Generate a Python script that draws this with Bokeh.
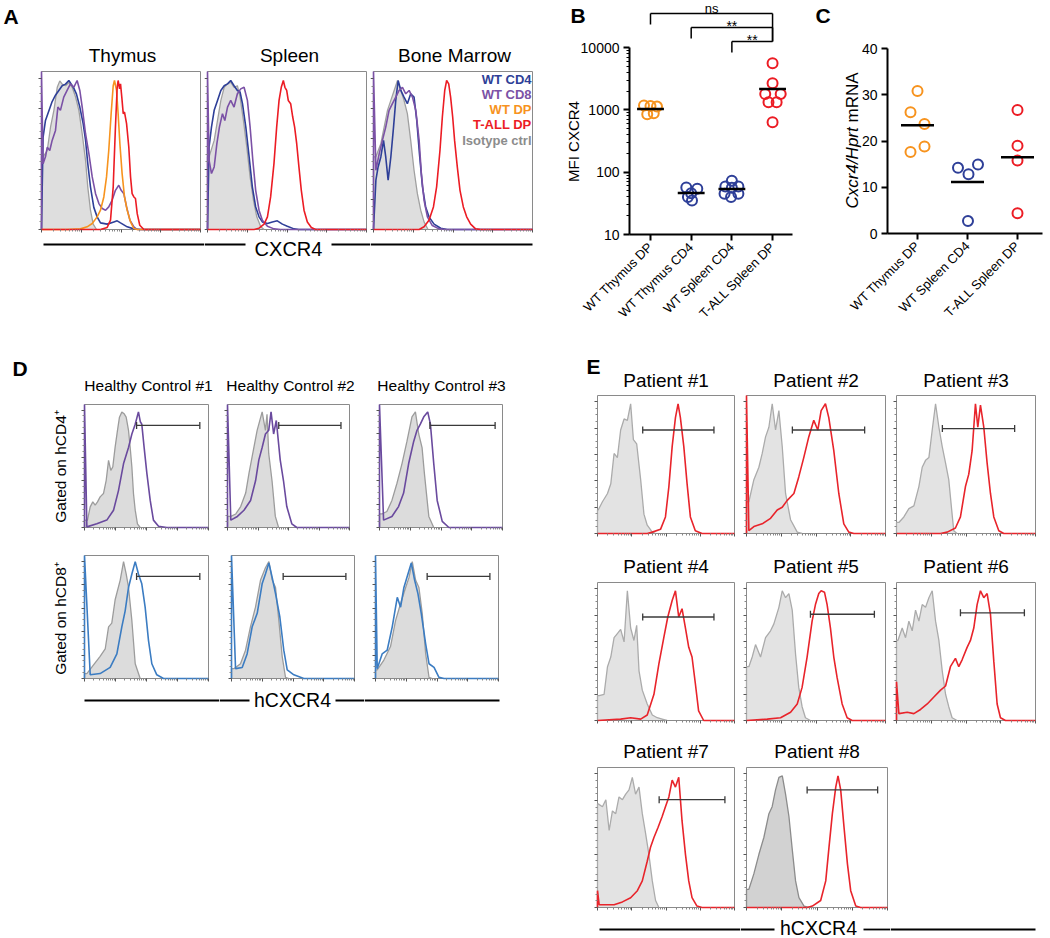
import math
import numpy as np
from bokeh.plotting import figure
from bokeh.layouts import row, column
from bokeh.models import Range1d, FixedTicker, CustomJSTickFormatter, BasicTickFormatter
from bokeh.core.properties import value
from bokeh.embed import file_html
from bokeh.resources import INLINE

FONT = "Liberation Sans"

# ======================= DATA =======================
# Histograms: x = normalised log fluorescence (0-1), y = normalised count (0-1)
# ---- Panel A : Thymus ----
A_THY_ISO = [(0.01,0.46),(0.036,0.5),(0.057,0.65),(0.078,0.754),(0.099,0.9),(0.115,0.94),(0.13,0.92),(0.151,0.91),(0.172,0.93),(0.193,0.9),(0.214,0.84),(0.235,0.754),(0.256,0.606),(0.277,0.438),(0.291,0.27),(0.308,0.122),(0.325,0.034),(0.346,0.0)]
A_THY_CD4 = [(0.01,0.585),(0.025,0.69),(0.046,0.75),(0.067,0.81),(0.088,0.85),(0.109,0.88),(0.13,0.91),(0.151,0.92),(0.172,0.943),(0.187,0.92),(0.203,0.895),(0.22,0.857),(0.241,0.775),(0.262,0.67),(0.277,0.565),(0.291,0.417),(0.308,0.27),(0.329,0.14),(0.35,0.08),(0.371,0.042),(0.413,0.034),(0.455,0.048),(0.476,0.055),(0.497,0.042),(0.539,0.017),(0.58,0.004),(0.623,0.0)]
A_THY_CD8 = [(0.01,0.417),(0.025,0.46),(0.036,0.52),(0.052,0.5),(0.067,0.564),(0.088,0.627),(0.103,0.775),(0.119,0.754),(0.14,0.838),(0.161,0.88),(0.182,0.922),(0.203,0.9),(0.224,0.943),(0.241,0.88),(0.256,0.775),(0.277,0.606),(0.298,0.48),(0.319,0.333),(0.34,0.227),(0.361,0.164),(0.382,0.133),(0.403,0.122),(0.423,0.143),(0.444,0.185),(0.465,0.248),(0.486,0.28),(0.501,0.248),(0.518,0.227),(0.535,0.143),(0.556,0.059),(0.581,0.017),(0.602,0.0)]
A_THY_DP = [(0.161,0.0),(0.245,0.004),(0.287,0.017),(0.319,0.038),(0.35,0.08),(0.371,0.122),(0.392,0.206),(0.409,0.333),(0.423,0.5),(0.438,0.733),(0.451,0.91),(0.459,0.943),(0.472,0.88),(0.482,0.733),(0.493,0.543),(0.507,0.354),(0.522,0.206),(0.539,0.122),(0.56,0.048),(0.581,0.006),(0.602,0.0)]
A_THY_TALL = [(0.371,0.0),(0.413,0.013),(0.434,0.059),(0.451,0.27),(0.465,0.648),(0.476,0.9),(0.482,0.943),(0.491,0.89),(0.497,0.922),(0.505,0.838),(0.514,0.733),(0.522,0.743),(0.535,0.67),(0.549,0.522),(0.56,0.333),(0.57,0.227),(0.581,0.206),(0.591,0.196),(0.602,0.1),(0.618,0.027),(0.644,0.0)]
# ---- Panel A : Spleen ----
A_SPL_ISO = [(0.01,0.46),(0.042,0.564),(0.063,0.69),(0.084,0.817),(0.105,0.9),(0.126,0.922),(0.146,0.933),(0.167,0.9),(0.188,0.91),(0.205,0.838),(0.226,0.69),(0.247,0.522),(0.268,0.333),(0.289,0.185),(0.31,0.08),(0.335,0.017),(0.356,0.0)]
A_SPL_CD4 = [(0.01,0.522),(0.025,0.648),(0.042,0.754),(0.063,0.817),(0.084,0.88),(0.105,0.91),(0.126,0.922),(0.146,0.943),(0.167,0.91),(0.188,0.88),(0.205,0.87),(0.22,0.796),(0.241,0.648),(0.262,0.459),(0.282,0.27),(0.303,0.143),(0.324,0.08),(0.345,0.048),(0.377,0.038),(0.408,0.048),(0.439,0.055),(0.471,0.034),(0.502,0.021),(0.544,0.004),(0.575,0.0)]
A_SPL_CD8 = [(0.01,0.438),(0.025,0.354),(0.042,0.396),(0.059,0.543),(0.075,0.648),(0.094,0.733),(0.109,0.69),(0.126,0.775),(0.146,0.817),(0.167,0.775),(0.188,0.859),(0.209,0.89),(0.23,0.9),(0.251,0.817),(0.268,0.648),(0.285,0.438),(0.303,0.248),(0.324,0.122),(0.345,0.059),(0.377,0.021),(0.418,0.004),(0.46,0.0)]
A_SPL_TALL = [(0.293,0.0),(0.324,0.008),(0.356,0.034),(0.377,0.08),(0.397,0.206),(0.418,0.417),(0.435,0.648),(0.45,0.817),(0.464,0.9),(0.477,0.943),(0.487,0.9),(0.498,0.88),(0.508,0.817),(0.523,0.796),(0.536,0.712),(0.548,0.648),(0.561,0.543),(0.575,0.396),(0.59,0.248),(0.607,0.122),(0.628,0.048),(0.653,0.013),(0.68,0.0)]
# ---- Panel A : Bone marrow ----
A_BM_ISO = [(0.015,0.46),(0.046,0.543),(0.067,0.648),(0.088,0.754),(0.109,0.817),(0.13,0.88),(0.151,0.943),(0.172,0.88),(0.192,0.817),(0.213,0.733),(0.234,0.564),(0.255,0.375),(0.276,0.227),(0.297,0.122),(0.318,0.048),(0.343,0.0)]
A_BM_CD4 = [(0.015,0.312),(0.029,0.396),(0.046,0.459),(0.063,0.564),(0.077,0.459),(0.092,0.312),(0.109,0.459),(0.126,0.648),(0.14,0.817),(0.155,0.943),(0.172,0.88),(0.192,0.838),(0.213,0.796),(0.234,0.859),(0.255,0.838),(0.272,0.69),(0.289,0.48),(0.308,0.27),(0.328,0.143),(0.349,0.08),(0.381,0.034),(0.423,0.008),(0.464,0.0)]
A_BM_CD8 = [(0.015,0.375),(0.036,0.48),(0.056,0.564),(0.077,0.648),(0.098,0.754),(0.119,0.796),(0.14,0.838),(0.161,0.88),(0.182,0.9),(0.203,0.859),(0.224,0.88),(0.245,0.838),(0.266,0.754),(0.287,0.564),(0.301,0.354),(0.318,0.185),(0.339,0.08),(0.37,0.025),(0.412,0.004),(0.454,0.0)]
A_BM_TALL = [(0.287,0.0),(0.318,0.017),(0.349,0.059),(0.377,0.143),(0.397,0.27),(0.418,0.5),(0.433,0.712),(0.448,0.88),(0.46,0.943),(0.473,0.922),(0.485,0.838),(0.498,0.712),(0.51,0.564),(0.527,0.396),(0.544,0.248),(0.565,0.143),(0.586,0.08),(0.611,0.034),(0.642,0.004),(0.674,0.0)]
A_TITLES = ["Thymus", "Spleen", "Bone Marrow"]
A_LEGEND = ["WT CD4", "WT CD8", "WT DP", "T-ALL DP", "Isotype ctrl"]

# ---- Panel B : MFI CXCR4 ----
B_GROUPS = ["WT Thymus DP", "WT Thymus CD4", "WT Spleen CD4", "T-ALL Spleen DP"]
B_THY_DP = [1170, 1150, 1130, 850, 880]
B_THY_CD4 = [57, 54, 46, 40, 35]
B_SPL_CD4 = [73, 59, 59, 56, 45, 45, 40]
B_TALL_DP = [5600, 2660, 1800, 1800, 1320, 1320, 630]
B_JITTER = [[-0.16, 0.0, 0.16, -0.08, 0.08],
            [-0.12, 0.15, 0.0, -0.08, 0.02],
            [0.0, -0.16, 0.16, 0.0, -0.18, 0.16, -0.02],
            [0.0, 0.0, -0.18, 0.2, -0.1, 0.1, 0.0]]
B_TICKS = [10, 100, 1000, 10000]
B_SIG = [("ns", 1, 4), ("**", 2, 4), ("**", 3, 4)]

# ---- Panel C : Cxcr4/Hprt mRNA ----
C_GROUPS = ["WT Thymus DP", "WT Spleen CD4", "T-ALL Spleen DP"]
C_THY_DP = [30.8, 26.2, 23.7, 18.8, 17.6]
C_SPL_CD4 = [14.2, 12.8, 14.9, 2.7]
C_TALL_DP = [26.7, 19.0, 15.8, 4.4]
C_JITTER = [[0.0, -0.14, 0.14, 0.14, -0.14],
            [-0.19, 0.02, 0.21, 0.01],
            [0.0, 0.0, 0.0, 0.0]]
C_TICKS = [0, 10, 20, 30, 40]

# ---- Panel D : healthy controls ----
D_TITLES = ["Healthy Control #1", "Healthy Control #2", "Healthy Control #3"]
D_ROWS = ["Gated on hCD4\u207a", "Gated on hCD8\u207a"]
D_CD4_ISO_1 = [(0.024,0.059),(0.046,0.168),(0.067,0.208),(0.086,0.181),(0.105,0.208),(0.126,0.249),(0.153,0.276),(0.175,0.384),(0.194,0.546),(0.212,0.465),(0.228,0.492),(0.247,0.654),(0.266,0.789),(0.282,0.897),(0.301,0.938),(0.32,0.924),(0.336,0.897),(0.355,0.789),(0.368,0.654),(0.382,0.492),(0.395,0.276),(0.409,0.141),(0.427,0.03),(0.449,0.0)]
D_CD4_1 = [(0.019,0.005),(0.099,0.03),(0.18,0.06),(0.234,0.14),(0.274,0.3),(0.315,0.52),(0.355,0.65),(0.382,0.76),(0.409,0.84),(0.435,0.94),(0.45,0.86),(0.462,0.84),(0.481,0.65),(0.503,0.44),(0.53,0.22),(0.556,0.06),(0.597,0.01),(0.664,0.0)]
D_CD4_ISO_2 = [(0.027,0.09),(0.068,0.11),(0.108,0.17),(0.149,0.28),(0.176,0.44),(0.216,0.65),(0.243,0.79),(0.284,0.94),(0.311,0.79),(0.324,0.92),(0.338,0.6),(0.365,0.38),(0.392,0.09),(0.419,0.0)]
D_CD4_2 = [(0.027,0.06),(0.081,0.09),(0.135,0.14),(0.189,0.22),(0.23,0.38),(0.257,0.55),(0.284,0.65),(0.311,0.76),(0.338,0.79),(0.357,0.94),(0.378,0.76),(0.4,0.87),(0.432,0.55),(0.459,0.38),(0.486,0.17),(0.527,0.03),(0.568,0.0)]
D_CD4_ISO_3 = [(0.019,0.11),(0.06,0.13),(0.101,0.22),(0.142,0.36),(0.183,0.52),(0.223,0.7),(0.264,0.9),(0.292,0.94),(0.319,0.76),(0.346,0.65),(0.365,0.44),(0.401,0.09),(0.441,0.0)]
D_CD4_3 = [(0.033,0.06),(0.101,0.09),(0.155,0.17),(0.196,0.28),(0.237,0.52),(0.278,0.7),(0.305,0.79),(0.332,0.84),(0.36,0.9),(0.392,0.94),(0.414,0.84),(0.441,0.52),(0.469,0.22),(0.51,0.05),(0.564,0.0)]
D_CD8_ISO_1 = [(0.019,0.04),(0.073,0.11),(0.126,0.18),(0.167,0.24),(0.194,0.42),(0.22,0.45),(0.247,0.64),(0.288,0.8),(0.315,0.95),(0.336,0.85),(0.355,0.74),(0.382,0.47),(0.409,0.12),(0.449,0.0)]
D_CD8_1 = [(0.046,0.03),(0.126,0.04),(0.207,0.09),(0.261,0.2),(0.301,0.42),(0.328,0.55),(0.355,0.74),(0.382,0.85),(0.409,0.95),(0.435,0.85),(0.462,0.77),(0.489,0.58),(0.516,0.31),(0.543,0.12),(0.583,0.03),(0.637,0.0)]
D_CD8_ISO_2 = [(0.019,0.08),(0.073,0.12),(0.114,0.23),(0.154,0.42),(0.195,0.58),(0.236,0.8),(0.276,0.9),(0.304,0.95),(0.331,0.8),(0.358,0.74),(0.385,0.47),(0.412,0.18),(0.439,0.01),(0.466,0.0)]
D_CD8_2 = [(0.033,0.08),(0.087,0.09),(0.127,0.2),(0.168,0.42),(0.209,0.53),(0.249,0.77),(0.276,0.85),(0.304,0.94),(0.331,0.82),(0.358,0.69),(0.393,0.5),(0.425,0.23),(0.453,0.07),(0.507,0.03),(0.588,0.0)]
D_CD8_ISO_3 = [(0.014,0.07),(0.068,0.15),(0.122,0.26),(0.163,0.47),(0.204,0.61),(0.245,0.74),(0.272,0.82),(0.299,0.95),(0.326,0.8),(0.353,0.74),(0.38,0.53),(0.408,0.2),(0.435,0.01),(0.462,0.0)]
D_CD8_3 = [(0.014,0.08),(0.054,0.2),(0.095,0.23),(0.136,0.42),(0.177,0.66),(0.204,0.58),(0.231,0.74),(0.264,0.85),(0.291,0.94),(0.318,0.8),(0.345,0.69),(0.372,0.53),(0.408,0.28),(0.435,0.12),(0.476,0.09),(0.516,0.01),(0.557,0.0)]
D_GATES = [[(0.42, 0.93, 0.83), (0.42, 0.93, 0.83), (0.41, 0.94, 0.83)],
           [(0.42, 0.93, 0.83), (0.42, 0.93, 0.83), (0.42, 0.93, 0.83)]]

# ---- Panel E : patients ----
E_TITLES = ["Patient #1", "Patient #2", "Patient #3", "Patient #4",
            "Patient #5", "Patient #6", "Patient #7", "Patient #8"]
E_ISO_1 = [(0.005,0.17),(0.036,0.23),(0.073,0.29),(0.097,0.36),(0.121,0.58),(0.145,0.55),(0.169,0.75),(0.194,0.83),(0.218,0.82),(0.242,0.94),(0.262,0.68),(0.286,0.65),(0.315,0.39),(0.339,0.14),(0.363,0.06),(0.4,0.01),(0.424,0.0)]
E_TALL_1 = [(0.363,0.0),(0.4,0.01),(0.46,0.03),(0.496,0.12),(0.521,0.34),(0.545,0.63),(0.569,0.84),(0.588,0.94),(0.605,0.84),(0.63,0.63),(0.654,0.36),(0.678,0.12),(0.714,0.02),(0.763,0.0)]
E_ISO_2 = [(0.017,0.23),(0.053,0.39),(0.089,0.48),(0.113,0.58),(0.137,0.7),(0.161,0.77),(0.185,0.94),(0.209,0.75),(0.233,0.89),(0.257,0.63),(0.281,0.29),(0.317,0.1),(0.365,0.01),(0.4,0.0)]
E_TALL_2 = [(0.017,0.02),(0.053,0.05),(0.113,0.07),(0.173,0.11),(0.221,0.17),(0.257,0.19),(0.293,0.24),(0.341,0.29),(0.376,0.41),(0.412,0.55),(0.448,0.7),(0.484,0.82),(0.513,0.75),(0.537,0.89),(0.568,0.94),(0.592,0.84),(0.628,0.6),(0.664,0.29),(0.7,0.07),(0.736,0.01),(0.772,0.0)]
E_ISO_3 = [(0.017,0.08),(0.053,0.12),(0.089,0.18),(0.125,0.2),(0.161,0.34),(0.185,0.48),(0.209,0.53),(0.233,0.55),(0.257,0.75),(0.281,0.94),(0.305,0.77),(0.329,0.63),(0.353,0.51),(0.376,0.39),(0.4,0.14),(0.412,0.02),(0.436,0.0)]
E_TALL_3 = [(0.317,0.0),(0.365,0.01),(0.424,0.04),(0.46,0.12),(0.496,0.34),(0.52,0.43),(0.544,0.6),(0.568,0.94),(0.585,0.77),(0.604,0.93),(0.628,0.77),(0.652,0.51),(0.676,0.29),(0.7,0.12),(0.736,0.02),(0.772,0.0)]
E_ISO_4 = [(0.012,0.18),(0.048,0.19),(0.073,0.39),(0.097,0.46),(0.121,0.6),(0.145,0.63),(0.169,0.66),(0.194,0.57),(0.218,0.94),(0.242,0.67),(0.266,0.58),(0.286,0.69),(0.303,0.36),(0.327,0.22),(0.363,0.12),(0.4,0.04),(0.436,0.02),(0.472,0.01),(0.508,0.0)]
E_TALL_4 = [(0.169,0.01),(0.242,0.02),(0.315,0.01),(0.363,0.04),(0.412,0.19),(0.448,0.41),(0.484,0.6),(0.513,0.75),(0.545,0.87),(0.569,0.94),(0.593,0.75),(0.617,0.81),(0.642,0.67),(0.666,0.53),(0.69,0.46),(0.714,0.27),(0.738,0.07),(0.775,0.0)]
E_ISO_5 = [(0.017,0.39),(0.041,0.46),(0.065,0.55),(0.101,0.46),(0.137,0.6),(0.173,0.65),(0.197,0.7),(0.233,0.82),(0.257,0.94),(0.281,0.89),(0.305,0.92),(0.329,0.8),(0.353,0.48),(0.376,0.24),(0.4,0.1),(0.424,0.02),(0.46,0.0)]
E_TALL_5 = [(0.149,0.01),(0.245,0.02),(0.317,0.06),(0.365,0.12),(0.4,0.24),(0.436,0.46),(0.472,0.72),(0.496,0.84),(0.52,0.92),(0.537,0.94),(0.561,0.93),(0.58,0.84),(0.604,0.67),(0.628,0.46),(0.652,0.31),(0.688,0.12),(0.724,0.02),(0.76,0.0)]
E_ISO_6 = [(0.01,0.58),(0.041,0.67),(0.065,0.6),(0.089,0.72),(0.113,0.65),(0.137,0.8),(0.161,0.72),(0.185,0.84),(0.209,0.82),(0.233,0.89),(0.257,0.94),(0.281,0.72),(0.305,0.58),(0.329,0.36),(0.353,0.19),(0.376,0.1),(0.4,0.02),(0.436,0.0)]
E_TALL_6 = [(0.017,0.05),(0.077,0.06),(0.125,0.05),(0.173,0.08),(0.221,0.12),(0.269,0.17),(0.317,0.22),(0.353,0.25),(0.388,0.39),(0.424,0.45),(0.448,0.39),(0.472,0.44),(0.508,0.53),(0.532,0.58),(0.556,0.67),(0.58,0.84),(0.604,0.94),(0.628,0.89),(0.652,0.92),(0.676,0.77),(0.7,0.43),(0.724,0.12),(0.748,0.02),(0.784,0.0)]
E_ISO_7 = [(0.005,0.74),(0.036,0.72),(0.061,0.77),(0.085,0.55),(0.109,0.69),(0.133,0.67),(0.157,0.79),(0.182,0.77),(0.206,0.81),(0.23,0.84),(0.254,0.93),(0.278,0.81),(0.303,0.86),(0.327,0.67),(0.351,0.53),(0.375,0.38),(0.4,0.19),(0.424,0.05),(0.448,0.0)]
E_TALL_7 = [(0.012,0.02),(0.121,0.02),(0.182,0.04),(0.242,0.07),(0.291,0.12),(0.327,0.19),(0.363,0.33),(0.387,0.43),(0.412,0.5),(0.441,0.57),(0.472,0.65),(0.496,0.72),(0.521,0.79),(0.545,0.91),(0.569,0.86),(0.593,0.93),(0.617,0.62),(0.642,0.38),(0.666,0.19),(0.69,0.07),(0.726,0.01),(0.763,0.0)]
E_ISO_8 = [(0.017,0.13),(0.052,0.24),(0.088,0.38),(0.123,0.5),(0.159,0.67),(0.182,0.72),(0.206,0.84),(0.23,0.93),(0.254,0.94),(0.277,0.81),(0.301,0.65),(0.325,0.41),(0.348,0.19),(0.372,0.07),(0.408,0.01),(0.443,0.0)]
E_TALL_8 = [(0.431,0.0),(0.467,0.01),(0.526,0.05),(0.562,0.19),(0.585,0.43),(0.609,0.67),(0.633,0.86),(0.649,0.94),(0.668,0.84),(0.692,0.57),(0.716,0.31),(0.739,0.12),(0.775,0.01),(0.81,0.0)]
E_SPIKES = [0.0, 1.0, 0.0, 0.0, 0.0, 0.28, 0.12, 0.0]
E_GATES = [(0.33, 0.85, 0.75), (0.33, 0.85, 0.75), (0.33, 0.85, 0.76), (0.33, 0.85, 0.75),
           (0.46, 0.92, 0.77), (0.46, 0.92, 0.78), (0.45, 0.93, 0.77), (0.43, 0.93, 0.84)]

# ======================= STYLE =======================
A_BLUE, A_PURPLE, A_ORANGE, A_RED = "#2e3f98", "#7b51a6", "#f7931e", "#ec1c24"
D_PURPLE, D_BLUE = "#6a4a9e", "#3b7cc2"
E_RED = "#e8242b"
ISO_FILL, ISO_LINE = "#dedede", "#a0a0a0"
BOX = "#8a8a8a"
GATE = "#3a3a3a"
X_MAJ = [0.0, 0.25, 0.5, 0.75, 1.0]
X_MIN = [d * 0.25 + math.log10(k) * 0.25 for d in range(4) for k in range(2, 10)]
Y_MAJ = [i * 0.191 for i in range(6)]
Y_MIN = [i * 0.191 + k * 0.0478 for i in range(5) for k in (1, 2, 3)]


class Panel:
    """A figure whose frame fills its whole layout cell; (xr, yr) map onto the
    inner box (page pixels ox+L .. ox+w-R, oy+T .. oy+h-B)."""

    def __init__(self, ox, oy, w, h, L, R, T, B, xr=(0.0, 1.0), yr=(0.0, 1.0), ylog=False):
        self.bx0, self.bx1 = ox + L, ox + w - R
        self.by0, self.by1 = oy + T, oy + h - B
        self.xr, self.yr, self.ylog = xr, yr, ylog
        self.sx = (xr[1] - xr[0]) / (self.bx1 - self.bx0)
        ly = (math.log10(yr[0]), math.log10(yr[1])) if ylog else yr
        self.ly = ly
        self.sy = (ly[1] - ly[0]) / (self.by1 - self.by0)
        x0, x1 = xr[0] - L * self.sx, xr[1] + R * self.sx
        y0, y1 = ly[0] - B * self.sy, ly[1] + T * self.sy
        if ylog:
            y0, y1 = 10 ** y0, 10 ** y1
        kw = dict(width=w, height=h, x_range=Range1d(x0, x1), y_range=Range1d(y0, y1),
                  min_border_left=0, min_border_right=0, min_border_top=0,
                  min_border_bottom=0, output_backend="svg", toolbar_location=None)
        if ylog:
            kw["y_axis_type"] = "log"
        p = figure(**kw)
        p.grid.visible = False
        p.outline_line_color = None
        p.background_fill_color = "white"
        p.border_fill_color = "white"
        self.p = p

    def dx(self, px):
        return self.xr[0] + (px - self.bx0) * self.sx

    def dy(self, py):
        v = self.ly[0] + (self.by1 - py) * self.sy
        return 10 ** v if self.ylog else v

    def text(self, px, py, txt, size, style="normal", align="center", angle=0.0, color="black"):
        self.p.text(x=[self.dx(px)], y=[self.dy(py)], text=[txt], text_font=value(FONT),
                    text_font_size=value(f"{size}px"), text_font_style=value(style),
                    text_align=value(align), text_baseline=value("middle"), angle=angle,
                    text_color=color)

    def rule(self, px0, py0, px1, py1, width=1.8, color="black"):
        self.p.segment(x0=[self.dx(px0)], y0=[self.dy(py0)], x1=[self.dx(px1)],
                       y1=[self.dy(py1)], line_color=color, line_width=width)


def hide_axes(p):
    p.xaxis.visible = False
    p.yaxis.visible = False


def style_hist_axes(p):
    p.xaxis.ticker = FixedTicker(ticks=X_MAJ, minor_ticks=X_MIN)
    p.yaxis.ticker = FixedTicker(ticks=Y_MAJ, minor_ticks=Y_MIN)
    p.xaxis.fixed_location = 0.0
    p.yaxis.fixed_location = 0.0
    for ax in (p.xaxis[0], p.yaxis[0]):
        ax.bounds = (0.0, 1.0)
        ax.axis_line_color = None
        ax.formatter = CustomJSTickFormatter(code="return ''")
        ax.major_label_text_font_size = "0px"
        ax.major_label_standoff = 0
        ax.major_tick_in = 0
        ax.major_tick_out = 3
        ax.minor_tick_in = 0
        ax.minor_tick_out = 2
        ax.major_tick_line_color = "#555555"
        ax.minor_tick_line_color = "#888888"


def draw_hist(pan, iso, curves, gate=None, iso_fill=ISO_FILL, iso_line=ISO_LINE):
    p = pan.p
    ix = [0.0, 0.0] + [a for a, b in iso]
    iy = [0.0, iso[0][1]] + [b for a, b in iso]
    p.varea(x=ix, y1=0.0, y2=iy, fill_color=iso_fill)
    p.quad(left=[0.0], right=[1.0], bottom=[0.0], top=[1.0], fill_color=None,
           line_color=BOX, line_width=1)
    p.line(ix, iy, line_color=iso_line, line_width=1.3)
    for pts, color, spike in curves:
        xs, ys = [0.0], [0.0]
        if spike:
            xs.append(0.0)
            ys.append(spike)
        xs += [a for a, b in pts] + [1.0]
        ys += [b for a, b in pts] + [0.0]
        p.line(xs, ys, line_color=color, line_width=1.6)
    if gate:
        g0, g1, gy = gate
        c = 3.5 / (pan.by1 - pan.by0)
        p.segment(x0=[g0, g0, g1], y0=[gy, gy - c, gy - c],
                  x1=[g1, g0, g1], y1=[gy, gy + c, gy + c],
                  line_color=GATE, line_width=1.3)
    style_hist_axes(p)


def style_dot_axes(pan, xlabels, ysize):
    p = pan.p
    p.xaxis.ticker = FixedTicker(ticks=list(range(1, len(xlabels) + 1)), minor_ticks=[])
    p.xaxis.major_label_overrides = {i + 1: g for i, g in enumerate(xlabels)}
    p.xaxis.major_label_orientation = math.pi / 4
    p.xaxis.fixed_location = pan.yr[0]
    p.yaxis.fixed_location = pan.xr[0]
    p.xaxis.bounds = pan.xr
    p.yaxis.bounds = pan.yr
    for ax in (p.xaxis[0], p.yaxis[0]):
        ax.axis_line_width = 2
        ax.axis_line_color = "black"
        ax.major_tick_line_width = 2
        ax.major_tick_in = 0
        ax.major_tick_out = 6
        ax.major_label_text_font = FONT
        ax.major_label_text_color = "black"
        ax.major_label_standoff = 4
    p.xaxis.major_label_text_font_size = "13px"
    p.yaxis.major_label_text_font_size = f"{ysize}px"


# ======================= PANEL A =======================
fA1 = Panel(0, 0, 204, 340, 41, 4, 71, 111)
fA2 = Panel(204, 0, 166, 340, 3, 4, 71, 111)
fA3 = Panel(370, 0, 175, 340, 3, 13, 71, 111)
draw_hist(fA1, A_THY_ISO, [(A_THY_CD4, A_BLUE, 0), (A_THY_CD8, A_PURPLE, 1.0),
                           (A_THY_DP, A_ORANGE, 0), (A_THY_TALL, A_RED, 0)])
draw_hist(fA2, A_SPL_ISO, [(A_SPL_CD4, A_BLUE, 0), (A_SPL_CD8, A_PURPLE, 1.0),
                           (A_SPL_TALL, A_RED, 0)])
draw_hist(fA3, A_BM_ISO, [(A_BM_CD4, A_BLUE, 0), (A_BM_CD8, A_PURPLE, 1.0),
                          (A_BM_TALL, A_RED, 0)])
fA1.text(3, 16, "A", 21, "bold", "left")
fA1.text(122, 55, A_TITLES[0], 19)
fA2.text(289, 55, A_TITLES[1], 19)
fA3.text(454, 55, A_TITLES[2], 19)
for lab, col, py in zip(A_LEGEND, [A_BLUE, A_PURPLE, A_ORANGE, A_RED, "#8c8c8c"],
                        [79, 94, 109, 124, 140]):
    fA3.text(531, py, lab, 13, "bold", "right", color=col)
fA1.rule(43, 244, 204, 244)
fA2.rule(204, 244, 245, 244)
fA2.text(288, 248, "CXCR4", 20)
fA2.rule(331, 244, 370, 244)
fA3.rule(370, 244, 532, 244)

# ======================= PANEL B =======================
fB = Panel(545, 0, 255, 340, 84, 8, 47, 106, xr=(0.484, 4.49), yr=(10, 10000), ylog=True)
pB = fB.p
for i, (vals, jit, col) in enumerate(zip([B_THY_DP, B_THY_CD4, B_SPL_CD4, B_TALL_DP],
                                         B_JITTER, [A_ORANGE, A_BLUE, A_BLUE, A_RED])):
    pB.scatter([i + 1 + j for j in jit], vals, marker="circle", size=10,
               fill_color=None, line_color=col, line_width=2)
    m = float(np.mean(vals))
    pB.segment(x0=[i + 1 - 0.33], y0=[m], x1=[i + 1 + 0.33], y1=[m],
               line_color="black", line_width=2.5)
style_dot_axes(fB, B_GROUPS, 14)
pB.yaxis.ticker = FixedTicker(ticks=B_TICKS,
                              minor_ticks=[k * t for t in B_TICKS[:-1] for k in range(2, 10)])
pB.yaxis.formatter = BasicTickFormatter(use_scientific=False)
pB.yaxis.major_label_overrides = {t: str(t) for t in B_TICKS}
pB.yaxis.minor_tick_in = 0
pB.yaxis.minor_tick_out = 3
pB.yaxis.minor_tick_line_color = "black"
fB.text(573, 141, "MFI CXCR4", 15, angle=math.pi / 2)
fB.text(570, 15, "B", 21, "bold", "left")
for k, (sig, a, b) in enumerate(B_SIG):
    by = 13 + k * 14
    ya, yb = fB.dy(by), fB.dy(by + 11)
    pB.segment(x0=[a, a, b], y0=[ya, ya, ya], x1=[b, a, b], y1=[ya, yb, fB.dy(41)],
               line_color="black", line_width=1.5)
    mid = fB.bx0 + ((a + b) / 2 - 0.484) / fB.sx
    fB.text(mid, 7.5 if sig == "ns" else by - 2, sig, 13 if sig == "ns" else 14)

# ======================= PANEL C =======================
fC = Panel(800, 0, 250, 340, 87, 8, 48, 107, xr=(0.4, 3.5), yr=(0, 40))
pC = fC.p
for i, (vals, jit, col) in enumerate(zip([C_THY_DP, C_SPL_CD4, C_TALL_DP], C_JITTER,
                                         [A_ORANGE, A_BLUE, A_RED])):
    pC.scatter([i + 1 + j for j in jit], vals, marker="circle", size=10,
               fill_color=None, line_color=col, line_width=2)
    m = float(np.mean(vals))
    pC.segment(x0=[i + 1 - 0.33], y0=[m], x1=[i + 1 + 0.33], y1=[m],
               line_color="black", line_width=2.5)
style_dot_axes(fC, C_GROUPS, 14)
pC.yaxis.ticker = FixedTicker(ticks=C_TICKS, minor_ticks=[])
fC.text(815, 15, "C", 21, "bold", "left")
fC.text(852, 208, "Cxcr4/Hprt", 17, "italic", "left", angle=math.pi / 2)
fC.text(852, 122, "mRNA", 17, "normal", "left", angle=math.pi / 2)

# ======================= PANEL D =======================
d11 = Panel(0, 340, 217, 201, 84, 9, 64, 14)
d12 = Panel(217, 340, 147, 201, 10, 15, 64, 14)
d13 = Panel(364, 340, 181, 201, 15, 43, 64, 14)
d21 = Panel(0, 541, 219, 397, 84, 11, 14, 260)
d22 = Panel(219, 541, 145, 397, 12, 10, 14, 260)
d23 = Panel(364, 541, 181, 397, 11, 47, 14, 260)
D_ISO = [[D_CD4_ISO_1, D_CD4_ISO_2, D_CD4_ISO_3], [D_CD8_ISO_1, D_CD8_ISO_2, D_CD8_ISO_3]]
D_CUR = [[D_CD4_1, D_CD4_2, D_CD4_3], [D_CD8_1, D_CD8_2, D_CD8_3]]
for r, (pans, col) in enumerate(zip([[d11, d12, d13], [d21, d22, d23]], [D_PURPLE, D_BLUE])):
    for c, pan in enumerate(pans):
        draw_hist(pan, D_ISO[r][c], [(D_CUR[r][c], col, 1.0)], gate=D_GATES[r][c],
                  iso_fill="#dcdcdc", iso_line="#9c9c9c")
d11.text(12, 368, "D", 21, "bold", "left")
for k, (pan, cx) in enumerate(zip([d11, d12, d13], [148, 290, 441])):
    pan.text(cx, 385, D_TITLES[k], 15.5)
d11.text(60, 466, D_ROWS[0], 15.5, angle=math.pi / 2)
d21.text(60, 618, D_ROWS[1], 15.5, angle=math.pi / 2)
d21.rule(84, 700, 219, 700)
d22.rule(219, 700, 249, 700)
d22.text(292, 699, "hCXCR4", 19.5)
d22.rule(335, 700, 364, 700)
d23.rule(364, 700, 499, 700)

# ======================= PANEL E =======================
e11 = Panel(545, 340, 195, 205, 52, 6, 55, 12)
e12 = Panel(740, 340, 150, 205, 6, 5, 55, 12)
e13 = Panel(890, 340, 160, 205, 6, 15, 55, 12)
e21 = Panel(545, 545, 195, 192, 52, 6, 37, 17)
e22 = Panel(740, 545, 150, 192, 6, 5, 37, 17)
e23 = Panel(890, 545, 160, 192, 6, 15, 37, 17)
e31 = Panel(545, 737, 195, 201, 52, 6, 30, 31)
e32 = Panel(740, 737, 150, 201, 6, 3, 30, 31)
e33 = Panel(890, 737, 160, 201, 6, 15, 30, 31)
hide_axes(e33.p)
E_PANS = [e11, e12, e13, e21, e22, e23, e31, e32]
E_ISO = [E_ISO_1, E_ISO_2, E_ISO_3, E_ISO_4, E_ISO_5, E_ISO_6, E_ISO_7, E_ISO_8]
E_CUR = [E_TALL_1, E_TALL_2, E_TALL_3, E_TALL_4, E_TALL_5, E_TALL_6, E_TALL_7, E_TALL_8]
E_TITLE_Y = [380, 380, 380, 566, 566, 566, 751, 751]
for k, pan in enumerate(E_PANS):
    fill, line = ("#d2d2d2", "#8c8c8c") if k == 7 else ("#e3e3e3", "#ababab")
    draw_hist(pan, E_ISO[k], [(E_CUR[k], E_RED, E_SPIKES[k])], gate=E_GATES[k],
              iso_fill=fill, iso_line=line)
    pan.text((pan.bx0 + pan.bx1) / 2, E_TITLE_Y[k], E_TITLES[k], 19)
e11.text(586, 366, "E", 21, "bold", "left")
e31.rule(599, 929, 740, 929)
e32.rule(740, 929, 774, 929)
e32.text(818, 927, "hCXCR4", 19.5)
e32.rule(863, 929, 890, 929)
e33.rule(890, 929, 1035, 929)

# ======================= LAYOUT =======================
top = row(fA1.p, fA2.p, fA3.p, fB.p, fC.p)
dcol = column(row(d11.p, d12.p, d13.p), row(d21.p, d22.p, d23.p))
ecol = column(row(e11.p, e12.p, e13.p), row(e21.p, e22.p, e23.p), row(e31.p, e32.p, e33.p))
layout = column(top, row(dcol, ecol))

open("out.html", "w").write(file_html(layout, INLINE, "CXCR4"))
